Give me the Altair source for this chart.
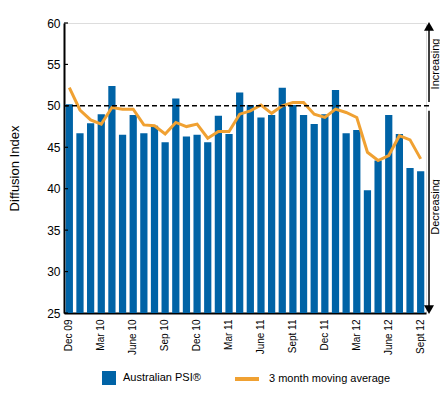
import altair as alt
import pandas as pd

months = ["Dec 09", "Jan 10", "Feb 10", "Mar 10", "Apr 10", "May 10", "June 10", "Jul 10", "Aug 10",
          "Sep 10", "Oct 10", "Nov 10", "Dec 10", "Jan 11", "Feb 11", "Mar 11", "Apr 11", "May 11",
          "June 11", "Jul 11", "Aug 11", "Sept 11", "Oct 11", "Nov 11", "Dec 11", "Jan 12", "Feb 12",
          "Mar 12", "Apr 12", "May 12", "June 12", "Jul 12", "Aug 12", "Sept 12"]
tick_months = ["Dec 09", "Mar 10", "June 10", "Sep 10", "Dec 10", "Mar 11", "June 11", "Sept 11",
               "Dec 11", "Mar 12", "June 12", "Sept 12"]
psi = [50.2, 46.7, 47.9, 49.0, 52.4, 46.5, 48.9, 46.7, 47.6, 45.6, 50.9, 46.3, 46.5, 45.6, 48.8,
       46.6, 51.6, 50.1, 48.6, 48.9, 52.2, 50.1, 48.9, 47.8, 49.0, 51.9, 46.7, 47.1, 39.8, 43.4,
       48.9, 46.6, 42.5, 42.1]
moving_avg = [52.2, 49.5, 48.3, 47.8, 49.8, 49.6, 49.6, 47.7, 47.6, 46.6, 48.0, 47.5, 47.8, 46.1,
              46.9, 46.9, 49.0, 49.4, 50.1, 49.1, 50.0, 50.4, 50.4, 49.0, 48.6, 49.6, 49.2, 48.6,
              44.4, 43.4, 44.0, 46.4, 45.9, 43.6]
y_ticks = [25, 30, 35, 40, 45, 50, 55, 60]
bar_name = "Australian PSI®"
line_name = "3 month moving average"

BLUE = "#0063a6"
ORANGE = "#f0a132"
FONT = "Liberation Sans"

W, H = 362, 290

df = pd.DataFrame({"month": months, "psi": psi, "ma": moving_avg,
                   "bs": [bar_name] * len(months), "ls": [line_name] * len(months)})
one = pd.DataFrame({"k": [0]})

x_enc = alt.X("month:N", sort=months, title=None,
              scale=alt.Scale(paddingInner=0.32, paddingOuter=0.16),
              axis=alt.Axis(values=tick_months, labelAngle=270, labelFontSize=10, labelFont=FONT,
                            labelColor="black", ticks=False, labelPadding=6,
                            domainColor="black", domainWidth=2))
y_scale = alt.Scale(domain=[25, 60], nice=False, zero=False)

bars = alt.Chart(df).mark_bar().encode(
    x=x_enc,
    y=alt.Y("psi:Q", scale=y_scale, title="Diffusion Index",
            axis=alt.Axis(values=y_ticks, grid=False, ticks=False, labelFontSize=12, labelFont=FONT,
                          labelColor="black", labelPadding=4, domainColor="black", domainWidth=2,
                          titleFont=FONT, titleFontSize=13, titleFontWeight="normal",
                          titleColor="black", titlePadding=25)),
    y2=alt.datum(25),
    fill=alt.Fill("bs:N", scale=alt.Scale(domain=[bar_name], range=[BLUE]),
                  legend=alt.Legend(title=None, orient="none", legendX=38, legendY=348,
                                    symbolType="square", symbolSize=196, symbolStrokeWidth=0,
                                    labelFontSize=11, labelFont=FONT, labelColor="black",
                                    labelOffset=7, padding=0)),
)

line = alt.Chart(df).mark_line(strokeWidth=3).encode(
    x=alt.X("month:N", sort=months),
    y=alt.Y("ma:Q", scale=y_scale),
    stroke=alt.Stroke("ls:N", scale=alt.Scale(domain=[line_name], range=[ORANGE]),
                      legend=alt.Legend(title=None, orient="none", legendX=169, legendY=342,
                                        symbolType="stroke", symbolSize=576, symbolStrokeWidth=4,
                                        labelFontSize=11, labelFont=FONT, labelColor="black",
                                        labelOffset=8, padding=0)),
)

ref = alt.Chart(one).mark_rule(color="black", strokeWidth=1.5, strokeDash=[5, 3]).encode(
    x=alt.value(0), x2=alt.value(W + 3), y=alt.datum(50))

tick_df = pd.DataFrame({"t": y_ticks})
inticks = alt.Chart(tick_df).mark_rule(color="black", strokeWidth=1.2).encode(
    x=alt.value(0), x2=alt.value(4), y=alt.Y("t:Q", scale=y_scale))

AX = W + 3
up_line = alt.Chart(one).mark_rule(color="black", strokeWidth=1.5).encode(
    x=alt.value(AX), y=alt.datum(50.48), y2=alt.datum(59.4))
down_line = alt.Chart(one).mark_rule(color="black", strokeWidth=1.5).encode(
    x=alt.value(AX), y=alt.datum(49.4), y2=alt.datum(25.7))
up_head = alt.Chart(one).mark_point(shape="triangle-up", filled=True, color="black", size=100,
                                    opacity=1).encode(x=alt.value(AX), y=alt.datum(59.6))
down_head = alt.Chart(one).mark_point(shape="triangle-down", filled=True, color="black", size=100,
                                      opacity=1).encode(x=alt.value(AX), y=alt.datum(25.4))
inc_text = alt.Chart(one).mark_text(text="Increasing", angle=270, fontSize=11, font=FONT,
                                    color="black", baseline="middle", align="center").encode(
    x=alt.value(W + 10), y=alt.datum(55.05))
dec_text = alt.Chart(one).mark_text(text="Decreasing", angle=270, fontSize=11, font=FONT,
                                    color="black", baseline="middle", align="center").encode(
    x=alt.value(W + 10), y=alt.datum(37.8))

chart = alt.layer(bars, line, ref, inticks, up_line, down_line, up_head, down_head,
                  inc_text, dec_text).resolve_scale(fill="independent", stroke="independent").properties(
    width=W, height=H,
    autosize=alt.AutoSizeParams(type="none"),
    padding={"left": 56, "top": 15, "right": 14, "bottom": 73},
).configure_view(stroke=None).configure(background="white")

chart.save("out.html", embed_options={"renderer": "svg", "actions": False})
